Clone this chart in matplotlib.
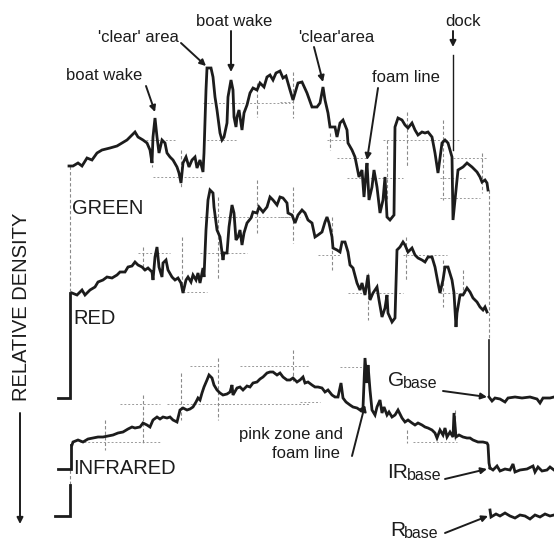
import matplotlib
matplotlib.use("Agg")
import matplotlib.pyplot as plt
import numpy as np

plt.rcParams['font.family'] = ['Liberation Sans', 'DejaVu Sans']

# Chart-recorder traces: (scan position, pen position from top of chart)
green = [(69,166),(73,166),(78,163),(82,166),(87,158),(92,160),(97,153),(102,150),(110,148),
         (117,146),(122,143),(127,140),(132,135),(135,132),(138,137),(143,140),(147,143),(150,150),
         (152,163),(153,137),(155,118),(157,137),(159,153),(162,140),(165,143),(167,153),(170,157),
         (173,160),(177,167),(179,173),(181,183),(183,163),(186,157),(189,167),(192,160),(195,157),
         (197,168),(200,160),(203,172),(204,153),(206,90),(207,68),(211,68),(213,77),(215,97),
         (217,110),(220,133),(222,140),(224,137),(227,123),(228,97),(231,80),(233,90),(234,117),
         (236,127),(237,117),(239,110),(242,130),(244,113),(247,105),(250,93),(253,88),(257,90),
         (260,83),(264,87),(267,77),(270,75),(273,80),(276,73),(280,71),(283,78),(286,76),(290,90),
         (293,100),(298,83),(302,82),(307,93),(312,107),(317,107),(320,103),(323,87),(325,100),
         (328,113),(330,127),(335,127),(337,137),(340,123),(343,120),(347,130),(348,143),(352,150),
         (355,157),(357,167),(359,177),(362,170),(364,197),(366,173),(367,163),(369,200),(372,187),
         (374,170),(377,187),(380,213),(383,200),(385,177),(387,217),(390,220),(394,215),(395,127),
         (398,118),(402,120),(405,125),(408,128),(412,123),(415,130),(418,135),(422,132),(425,133),
         (428,132),(432,137),(435,153),(438,173),(442,143),(445,140),(448,143),(452,157),(453,220),
         (455,200),(457,180),(458,170),(463,167),(467,163),(472,167),(477,172),(480,177),(482,182),
         (485,180),(487,183),(488,190)]

red = [(72,293),(77,295),(82,290),(85,295),(90,290),(95,287),(98,282),(103,280),(107,277),
       (112,278),(117,275),(120,272),(125,272),(128,267),(132,266),(135,262),(138,265),(142,267),
       (145,270),(148,268),(152,272),(153,280),(155,257),(157,247),(159,267),(162,277),(163,263),
       (166,260),(168,270),(172,277),(175,280),(178,278),(181,283),(183,293),(186,280),(188,277),
       (191,282),(193,275),(196,280),(198,273),(200,283),(203,268),(204,277),(206,230),(208,200),
       (210,190),(213,193),(214,207),(217,230),(220,237),(223,260),(224,253),(227,253),(229,227),
       (232,205),(234,213),(236,240),(238,237),(240,230),(242,245),(244,233),(247,223),(251,218),
       (253,212),(257,213),(259,207),(263,212),(267,207),(270,197),(273,200),(277,205),(280,197),
       (283,198),(287,203),(288,213),(292,215),(295,223),(298,215),(302,210),(305,213),(308,220),
       (312,223),(315,237),(318,235),(322,232),(325,222),(327,217),(329,223),(332,237),(333,248),
       (337,250),(340,252),(342,242),(345,242),(348,252),(350,265),(353,268),(357,283),(360,290),
       (362,283),(365,295),(368,275),(370,300),(373,293),(377,287),(379,300),(382,317),(385,308),
       (387,295),(388,313),(392,322),(395,318),(397,250),(400,247),(403,242),(405,245),(408,252),
       (412,248),(415,255),(418,258),(422,260),(425,262),(428,257),(432,257),(435,267),(438,283),
       (440,293),(443,280),(445,267),(448,267),(452,280),(454,293),(456,327),(457,313),(460,295),
       (463,295),(467,288),(470,292),(473,298),(477,302),(480,307),(483,310),(485,307),(487,312)]

infrared = [(72,445),(73,442),(78,440),(83,442),(88,439),(93,438),(98,437),(103,437),(108,436),
            (113,435),(118,433),(123,432),(128,429),(132,427),(135,428),(140,427),(143,423),(147,425),
            (150,427),(153,420),(157,417),(160,419),(163,417),(167,418),(170,417),(173,420),(177,422),
            (180,410),(183,408),(187,410),(190,409),(193,407),(196,402),(198,398),(200,400),(202,393),
            (204,387),(207,380),(209,375),(212,378),(214,385),(217,390),(220,393),(223,395),(227,394),
            (230,392),(232,385),(233,395),(237,388),(240,387),(243,390),(247,386),(250,387),(253,383),
            (257,382),(260,379),(263,377),(267,373),(270,372),(273,372),(277,375),(280,373),(283,377),
            (287,380),(290,380),(293,378),(297,382),(300,380),(303,377),(305,383),(308,382),(312,385),
            (315,387),(318,387),(322,388),(325,392),(328,390),(332,395),(335,397),(338,397),(341,383),
            (343,398),(346,402),(350,405),(353,407),(357,408),(360,410),(363,408),(365,358),(367,383),
            (368,365),(370,390),(372,410),(375,415),(377,407),(380,400),(382,413),(384,407),(387,415),
            (389,412),(392,417),(395,415),(398,410),(402,418),(405,422),(408,420),(412,423),(415,425),
            (418,423),(422,425),(425,427),(428,428),(432,430),(435,433),(437,438),(440,430),(443,435),
            (445,428),(447,437),(450,432),(453,437),(454,413),(456,437),(459,435),(463,437),(467,438),
            (470,438),(473,440),(478,442),(483,442),(487,443),(488,445),(489,463),(490,468)]

g_base = [(489,397),(492,401),(495,398),(500,399),(505,402),(508,398),(515,397),(522,398),
          (530,397),(537,399),(540,403),(543,398),(550,398),(554,397)]
ir_base = [(490,468),(493,470),(497,466),(500,471),(505,469),(510,470),(513,464),(515,472),
           (520,470),(527,469),(533,466),(535,472),(538,467),(542,471),(547,470),(550,467),(554,470)]
r_base = [(490,510),(491,517),(496,514),(500,516),(505,513),(510,516),(515,518),(520,515),
          (525,516),(530,519),(535,515),(540,517),(545,514),(550,516),(554,515)]

# left-hand zero steps
lead_green = [(58,398),(70,398),(70,293)]
lead_ir = [(58,469),(71,469),(71,445)]
lead_red = [(55,516),(70,516),(70,485)]

# faint chart-paper cross marks: (fixed, start, end)
grid_h = [(140,142,175),(177,153,203),(103,203,290),(140,203,237),(102,280,293),(140,327,347),
          (158,337,367),(178,347,403),(140,383,460),(178,440,467),(198,440,480),(158,453,487),
          (253,138,170),(292,183,207),(217,200,290),(253,200,247),(217,280,300),(255,318,340),
          (293,348,403),(255,403,447),(293,440,467),(442,80,160),(404,120,160),(404,167,227),
          (366,190,217),(366,240,310),(404,217,310),(367,340,363),(442,413,457),(402,300,320)]
grid_v = [(152,137,167),(181,150,187),(257,83,117),(293,72,118),(330,133,150),(387,140,200),
          (407,112,167),(443,120,200),(482,153,193),(143,247,270),(182,237,290),(257,180,233),
          (218,197,280),(293,187,243),(332,217,270),(368,273,320),(406,237,280),(443,260,307),
          (463,270,290),(105,420,450),(143,395,443),(181,373,420),(218,358,420),(293,350,383),
          (407,430,443),(455,410,440),(70,166,293),(489,190,340),(70,470,485)]

fig = plt.figure(figsize=(5.54, 5.40), dpi=100)
ax = fig.add_axes([0, 0, 1, 1])
ax.set_xlim(0, 554)
ax.set_ylim(540, 0)
ax.axis('off')

for y, x0, x1 in grid_h:
    ax.plot([x0, x1], [y, y], color='#9a9a9a', lw=0.7, ls=(0, (2, 2)), zorder=1)
for x, y0, y1 in grid_v:
    ax.plot([x, x], [y0, y1], color='#8a8a8a', lw=0.8, ls=(0, (3, 2)), zorder=1)

ink = '#1c1c1c'
for trace in (green, red, infrared, g_base, ir_base, r_base, lead_green, lead_ir, lead_red):
    px, py = zip(*trace)
    ax.plot(px, py, color=ink, lw=2.0, solid_joinstyle='miter', zorder=3)

# green drop to its baseline and the dock event marker
ax.plot([489, 489], [340, 397], color=ink, lw=1.2, zorder=3)
ax.plot([453, 453], [55, 150], color=ink, lw=1.0, zorder=3)

# labels
lab = dict(fontsize=12, color=ink, ha='center', va='center')
big = dict(fontsize=14.5, color=ink, ha='left', va='center')
arr = dict(arrowstyle='-|>', color=ink, lw=1.4, mutation_scale=9, shrinkA=0, shrinkB=0)

def note(text, xy, xytext, pos):
    ax.annotate('', xy=xy, xytext=xytext, arrowprops=arr)
    ax.text(pos[0], pos[1], text, **lab)

note('boat wake', (155, 112), (146, 86), (104, 75))
note("'clear' area", (206, 66), (181, 43), (138, 37))
note('boat wake', (231, 72), (231, 31), (234, 22))
note("'clear'area", (323, 82), (314, 47), (336, 37))
note('foam line', (367, 160), (378, 88), (406, 77))
note('dock', (453, 47), (453, 31), (463, 21))

ax.text(343, 434, 'pink zone and', fontsize=12, color=ink, ha='right', va='center')
ax.text(340, 453, 'foam line', fontsize=12, color=ink, ha='right', va='center')
ax.annotate('', xy=(365, 405), xytext=(352, 456), arrowprops=arr)

ax.text(72, 208, 'GREEN', **big)
ax.text(73, 319, 'RED', **big)
ax.text(73, 469, 'INFRARED', **big)

ax.text(22, 307, 'RELATIVE DENSITY', fontsize=14.5, color=ink, rotation=90,
        ha='center', va='center')
ax.annotate('', xy=(20, 524), xytext=(20, 413), arrowprops=arr)

# baseline labels
for letter, lx, bx, y, tail, head in [('G', 388, 403, 381, (443, 391), (487, 397)),
                                       ('IR', 387, 407, 472, (445, 479), (487, 469)),
                                       ('R', 390, 404, 531, (445, 533), (488, 516))]:
    ax.text(lx, y, letter, fontsize=15, color=ink, ha='left', va='center')
    ax.text(bx, y + 3, 'base', fontsize=11.5, color=ink, ha='left', va='center')
    ax.annotate('', xy=head, xytext=tail, arrowprops=arr)

fig.savefig('out.png', dpi=100, facecolor='white')
